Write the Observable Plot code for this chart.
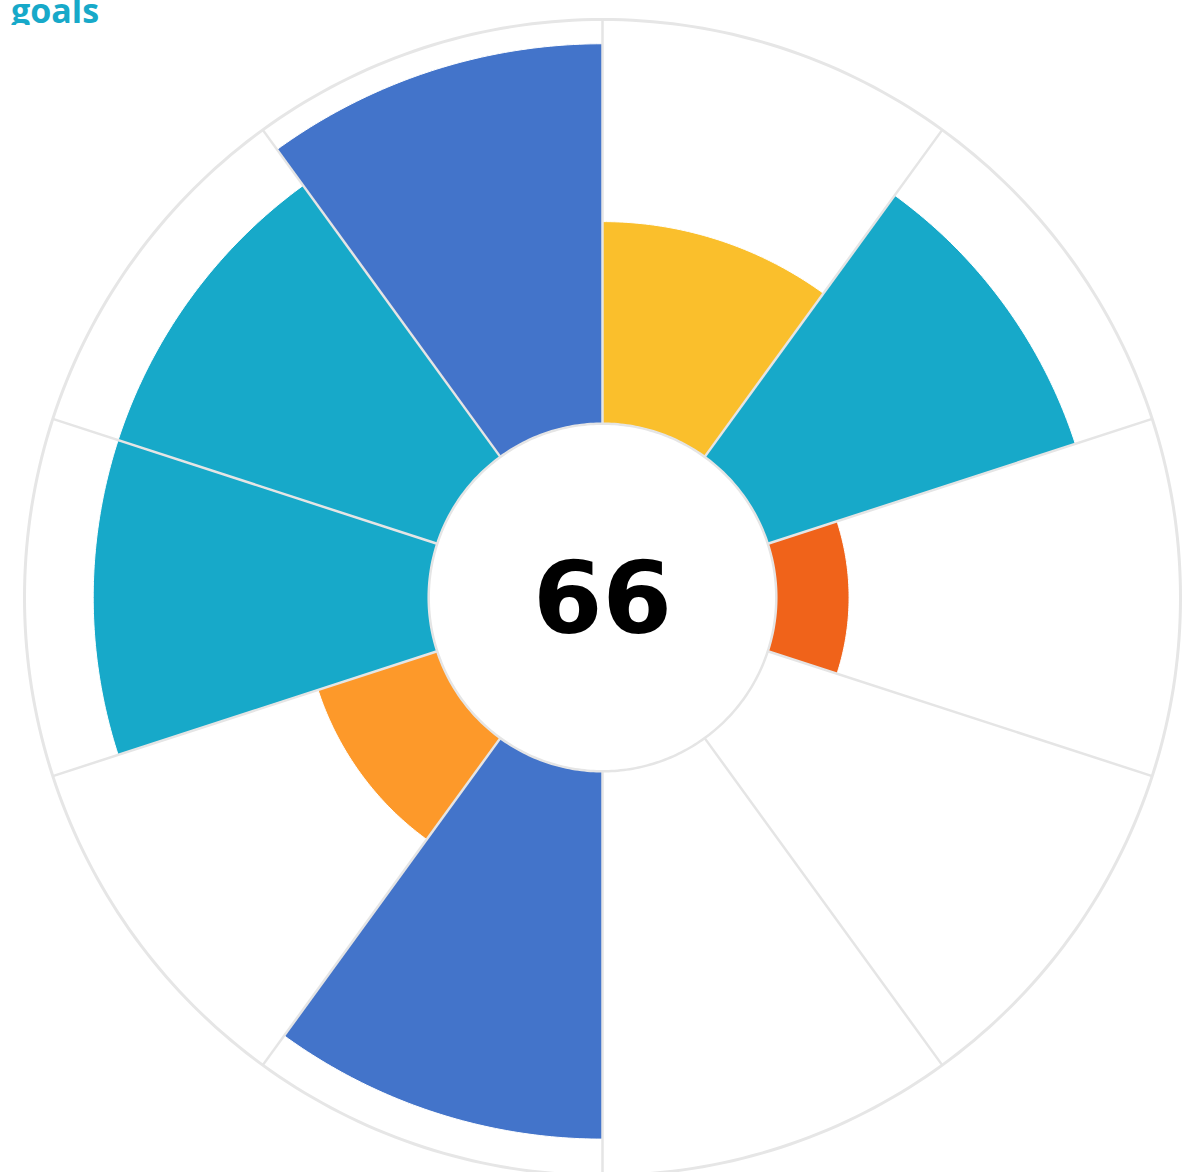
<!DOCTYPE html>
<html>
<head>
<meta charset="utf-8">
<script src="https://cdn.jsdelivr.net/npm/d3@7"></script>
<script src="https://cdn.jsdelivr.net/npm/@observablehq/plot@0.6"></script>
<style>
html, body { margin: 0; padding: 0; background: #fff; }
#wrap { position: relative; width: 1182px; height: 1172px; overflow: hidden; }
#title { position: absolute; left: 11px; top: -7px; height: 32px; overflow: hidden;
  font-family: "Open Sans", sans-serif; font-weight: 700; font-size: 34px; line-height: 34px;
  color: #17a9c9; z-index: 2; white-space: nowrap; }
#chart { position: absolute; left: 0; top: 0; }
</style>
</head>
<body>
<div id="wrap">
  <div id="chart"></div>
  <div id="title"></div>
</div>
<script>
// ---- data ----
const title = "goals";
const metrics = ["Metric 1", "Metric 2", "Metric 3", "Metric 4", "Metric 5",
                 "Metric 6", "Metric 7", "Metric 8", "Metric 9", "Metric 10"];
const values = [50, 80, 18, null, null, 91, 31, 83, 83, 94];
const colors = ["#fabf2c", "#17a9c9", "#f0631a", null, null,
                "#4374ca", "#fd992a", "#17a9c9", "#17a9c9", "#4374ca"];
const maxValue = 100;

// ---- geometry helpers (polar -> cartesian in value units) ----
const innerR = 43;               // hole radius, in value units
const outerR = innerR + maxValue;
const n = metrics.length;
const step = 360 / n;
const rad = a => a * Math.PI / 180;
const px = d => d.r * Math.sin(rad(d.a));
const py = d => d.r * Math.cos(rad(d.a));

function ring(r, id) {
  const pts = [];
  for (let k = 0; k <= 360; k++) pts.push({id, a: k, r});
  return pts;
}

const wedgePts = [];
metrics.forEach((m, i) => {
  const v = values[i];
  if (v == null) return;
  const a0 = i * step, a1 = (i + 1) * step, K = 60;
  const rOut = innerR + v;
  for (let k = 0; k <= K; k++) wedgePts.push({m, fill: colors[i], a: a0 + (a1 - a0) * k / K, r: innerR});
  for (let k = K; k >= 0; k--) wedgePts.push({m, fill: colors[i], a: a0 + (a1 - a0) * k / K, r: rOut});
  wedgePts.push({m, fill: colors[i], a: a0, r: innerR});
});

const spokes = metrics.map((m, i) => ({m, a: i * step}));
const score = Math.round(d3.mean(values.filter(v => v != null)));

const chart = Plot.plot({
  width: 1182,
  height: 1172,
  marginLeft: 24, marginRight: 2, marginTop: 19, marginBottom: -3,
  x: {domain: [-outerR, outerR], axis: null},
  y: {domain: [-outerR, outerR], axis: null},
  color: {type: "identity"},
  style: {background: "transparent"},
  marks: [
    Plot.line(ring(outerR, "outer"), {x: px, y: py, fill: "white", stroke: "#e6e6e6", strokeWidth: 3}),
    Plot.line(wedgePts, {x: px, y: py, z: "m", fill: "fill", stroke: "white", strokeWidth: 1}),
    Plot.link(spokes, {
      x1: d => innerR * Math.sin(rad(d.a)), y1: d => innerR * Math.cos(rad(d.a)),
      x2: d => outerR * Math.sin(rad(d.a)), y2: d => outerR * Math.cos(rad(d.a)),
      stroke: "#e5e5e5", strokeWidth: 2.5
    }),
    Plot.line(ring(innerR, "inner"), {x: px, y: py, fill: "white", stroke: "#e5e5e5", strokeWidth: 2.5}),
    Plot.text([score], {x: 0, y: 0, text: d => String(d), fontSize: 100, fontWeight: "bold",
      fontFamily: "DejaVu Sans", fill: "black", dy: 3})
  ]
});
document.getElementById("chart").appendChild(chart);
document.getElementById("title").textContent = title;
</script>
</body>
</html>
